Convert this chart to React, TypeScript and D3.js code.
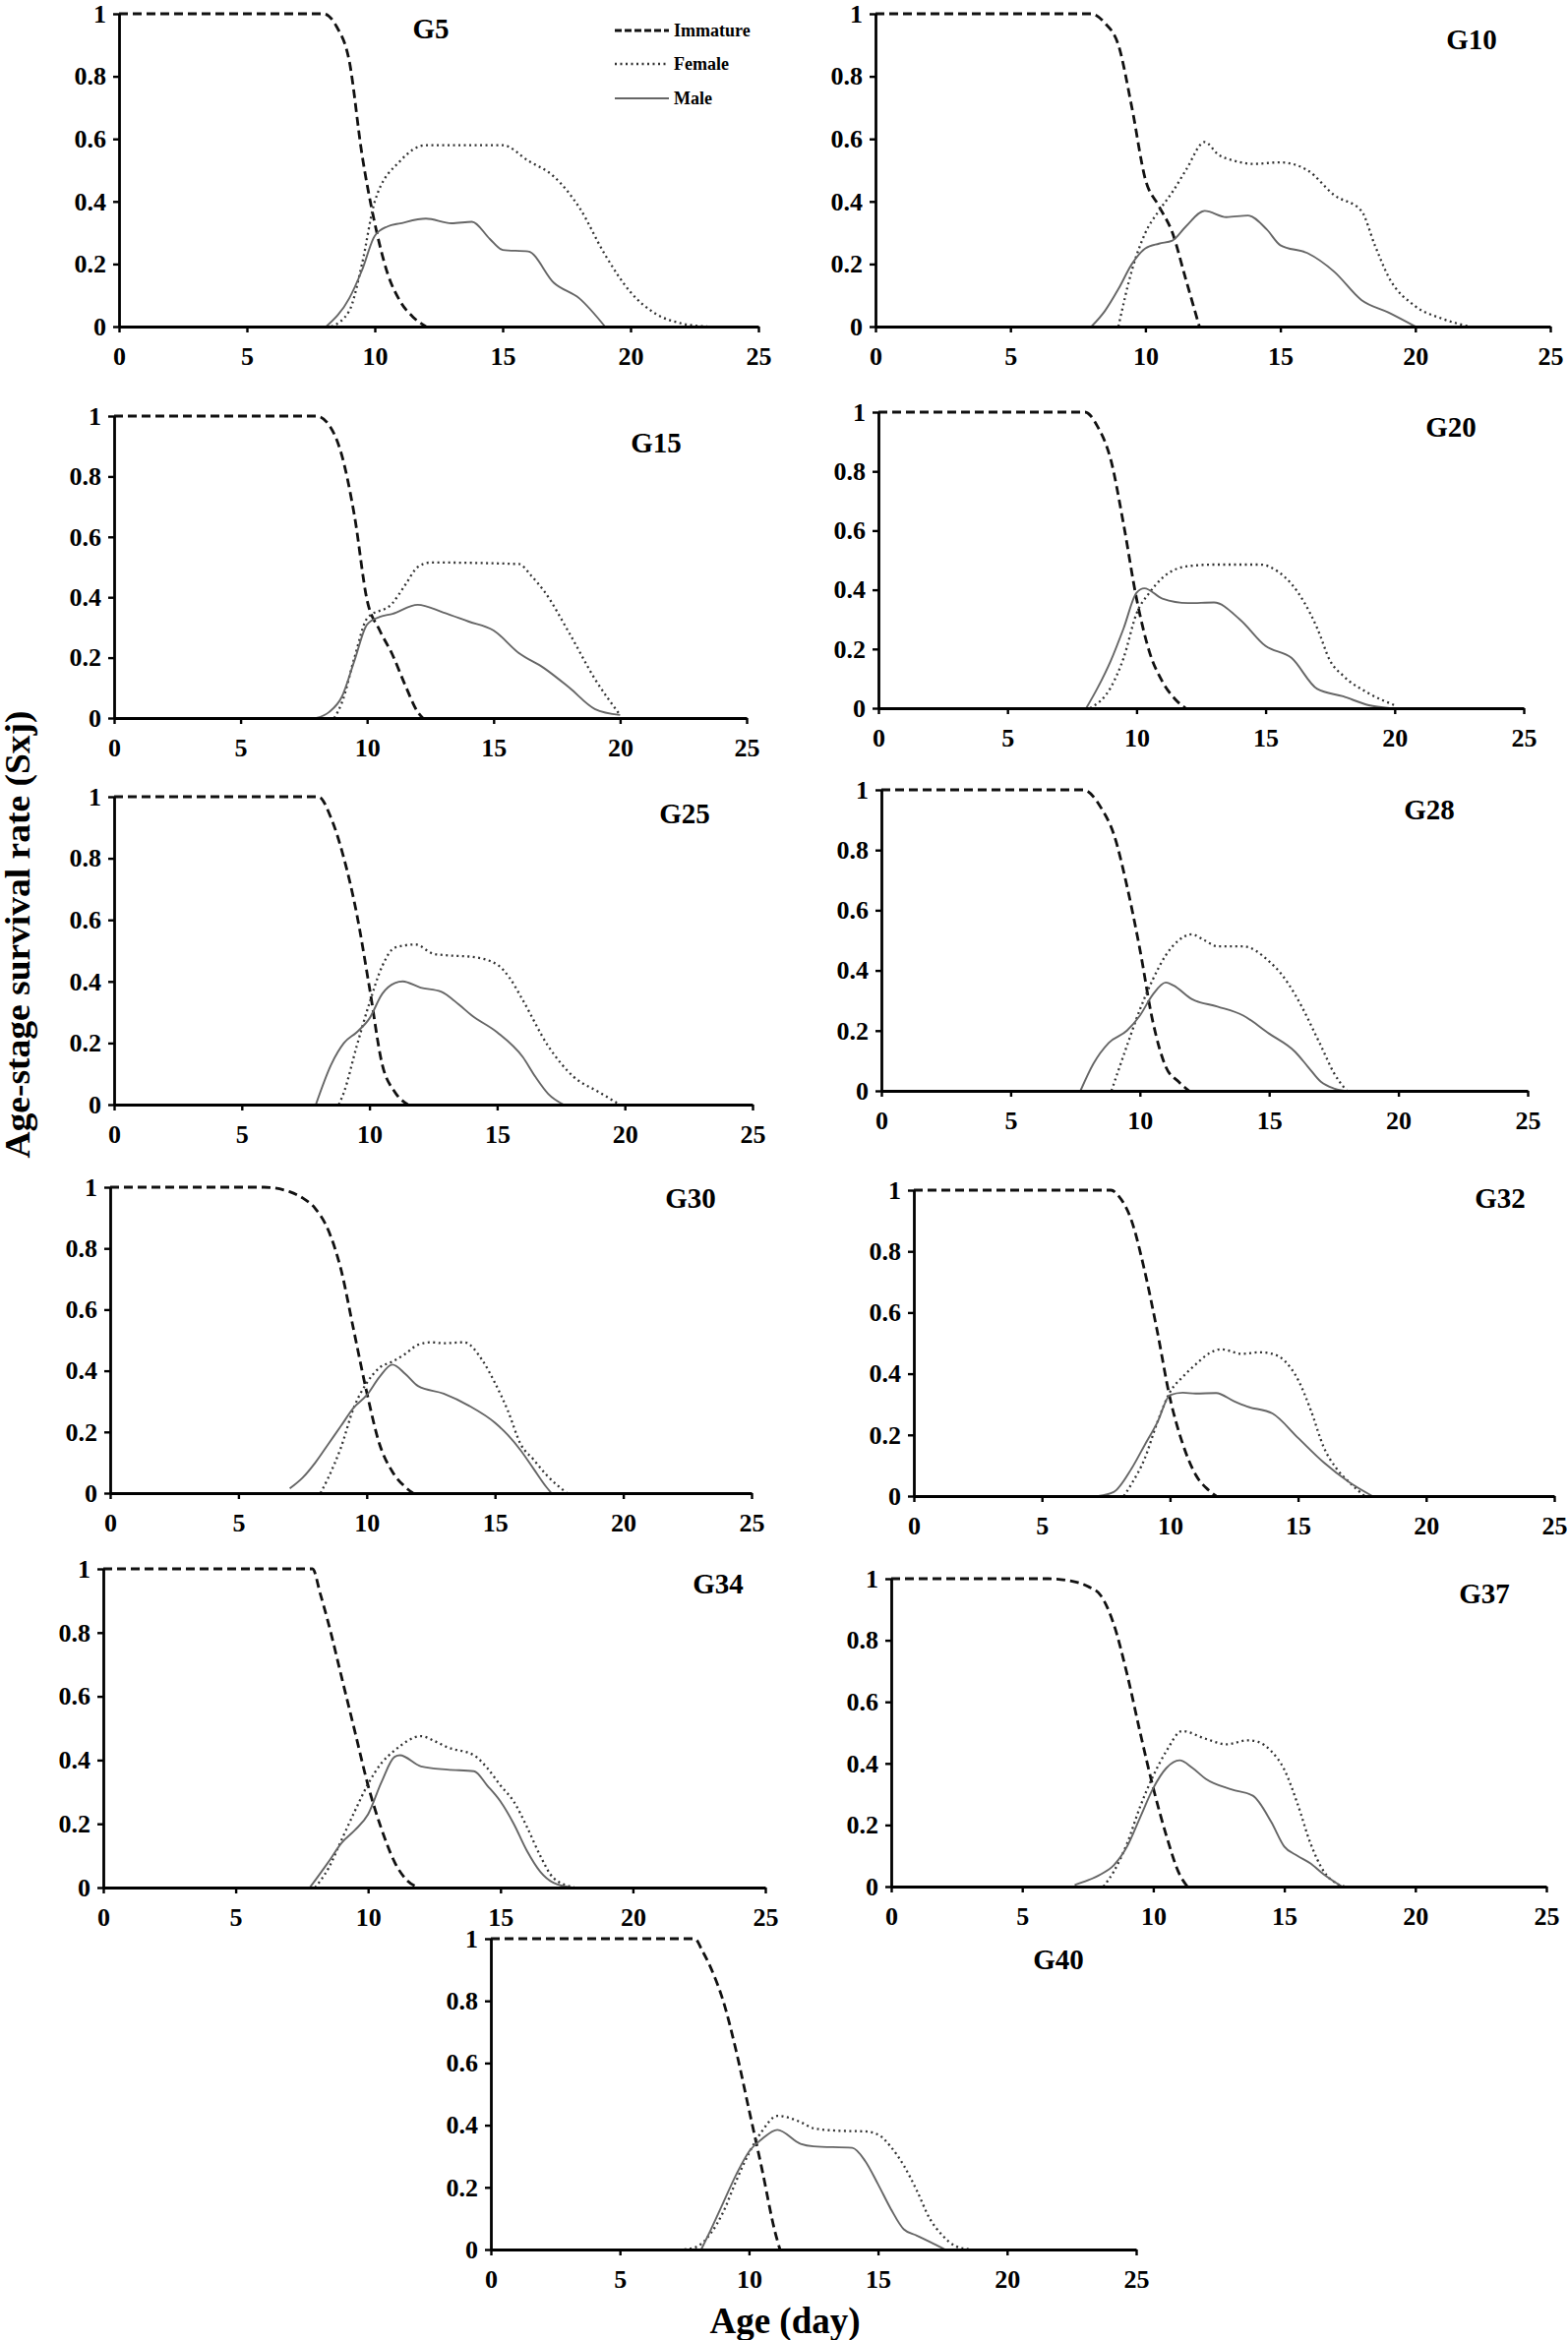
import React, { useEffect, useRef } from 'react';
import * as d3 from 'd3';

type Pt = [number, number];

const W = 1594;
const H = 2379;

const xTicks = [0, 5, 10, 15, 20, 25];
const yTicks = [0, 0.2, 0.4, 0.6, 0.8, 1];
const panelNames = ['G5', 'G10', 'G15', 'G20', 'G25', 'G28', 'G30', 'G32', 'G34', 'G37', 'G40'];
const legendLabels = ['Immature', 'Female', 'Male'];
const yTitle = 'Age-stage survival rate (Sxj)';
const xTitle = 'Age (day)';

// [day, survival]
const g5Immature: Pt[] = [[0, 1], [8, 1], [8.5, 0.96], [9, 0.85], [9.5, 0.55], [10, 0.33], [10.5, 0.17], [11, 0.08], [11.5, 0.03], [12, 0]];
const g5Female: Pt[] = [[8.3, 0], [9, 0.05], [9.5, 0.2], [10, 0.4], [11, 0.53], [12, 0.58], [13, 0.58], [14, 0.58], [15, 0.58], [16, 0.53], [17, 0.48], [18, 0.38], [19, 0.23], [20, 0.11], [21, 0.04], [22, 0.01], [23, 0]];
const g5Male: Pt[] = [[8.1, 0], [9, 0.09], [9.5, 0.18], [10, 0.29], [10.5, 0.32], [11, 0.33], [12, 0.345], [13, 0.33], [13.8, 0.335], [14.5, 0.28], [15, 0.245], [16, 0.24], [17, 0.14], [18, 0.09], [19, 0]];

const g10Immature: Pt[] = [[0, 1], [8, 1], [8.5, 0.97], [9, 0.9], [9.5, 0.7], [10, 0.47], [10.5, 0.385], [11, 0.3], [11.5, 0.15], [12, 0]];
const g10Female: Pt[] = [[9, 0], [9.5, 0.18], [10, 0.3], [10.5, 0.37], [11, 0.43], [11.5, 0.5], [12.2, 0.59], [12.7, 0.55], [13.3, 0.53], [14, 0.52], [15, 0.525], [16, 0.5], [17, 0.42], [18, 0.37], [18.5, 0.26], [19, 0.16], [20, 0.065], [21, 0.025], [22, 0]];
const g10Male: Pt[] = [[8, 0], [8.5, 0.05], [9, 0.12], [9.5, 0.2], [10, 0.25], [10.5, 0.265], [11, 0.275], [11.5, 0.32], [12.2, 0.37], [13, 0.35], [13.8, 0.355], [14.5, 0.31], [15, 0.26], [16, 0.235], [17, 0.175], [18, 0.085], [19, 0.045], [20, 0]];

const g15Immature: Pt[] = [[0, 1], [8, 1], [8.5, 0.97], [9, 0.87], [9.5, 0.67], [10, 0.39], [10.5, 0.29], [11, 0.21], [11.5, 0.11], [12, 0.02], [12.2, 0]];
const g15Female: Pt[] = [[8.7, 0], [9, 0.05], [9.5, 0.2], [10, 0.33], [11, 0.38], [11.5, 0.44], [12, 0.5], [12.5, 0.515], [16, 0.51], [16.5, 0.47], [17, 0.42], [18, 0.28], [19, 0.13], [20, 0.01]];
const g15Male: Pt[] = [[8, 0], [8.5, 0.02], [9, 0.07], [9.5, 0.19], [10, 0.31], [10.5, 0.335], [11, 0.345], [12, 0.375], [13, 0.35], [14, 0.32], [15, 0.29], [16, 0.215], [17, 0.165], [18, 0.1], [19, 0.03], [20, 0.01]];

const g20Immature: Pt[] = [[0, 1], [8, 1], [8.5, 0.95], [9, 0.84], [9.5, 0.62], [10, 0.37], [10.5, 0.19], [11, 0.09], [11.5, 0.03], [11.9, 0]];
const g20Female: Pt[] = [[8.2, 0], [9, 0.07], [9.5, 0.17], [10, 0.32], [10.5, 0.39], [11, 0.44], [12, 0.48], [13, 0.485], [14, 0.485], [14.8, 0.485], [15.5, 0.46], [16, 0.42], [17, 0.27], [17.5, 0.16], [18, 0.11], [19, 0.05], [20, 0.01]];
const g20Male: Pt[] = [[8.05, 0], [8.5, 0.07], [9, 0.16], [9.5, 0.27], [10, 0.39], [10.3, 0.405], [11, 0.37], [12, 0.355], [13, 0.357], [14, 0.3], [15, 0.21], [16, 0.17], [17, 0.065], [18, 0.04], [19, 0.01], [19.8, 0]];

const g25Immature: Pt[] = [[0, 1], [8, 1], [8.5, 0.93], [9, 0.8], [9.5, 0.62], [10, 0.38], [10.5, 0.13], [11, 0.04], [11.5, 0]];
const g25Female: Pt[] = [[8.8, 0], [9, 0.04], [9.5, 0.19], [10, 0.33], [10.5, 0.45], [11, 0.51], [11.8, 0.52], [12.5, 0.49], [13, 0.485], [14, 0.48], [15, 0.455], [15.5, 0.41], [16, 0.34], [17, 0.19], [18, 0.09], [19, 0.04], [19.8, 0]];
const g25Male: Pt[] = [[7.9, 0], [8.5, 0.13], [9, 0.2], [9.5, 0.235], [10, 0.28], [10.5, 0.36], [11, 0.395], [11.3, 0.4], [12, 0.38], [12.8, 0.367], [13.5, 0.325], [14, 0.29], [15, 0.235], [16, 0.155], [16.5, 0.09], [17, 0.035], [17.6, 0]];

const g28Immature: Pt[] = [[0, 1], [7.8, 1], [8.5, 0.94], [9, 0.85], [9.5, 0.68], [10, 0.47], [10.5, 0.23], [11, 0.08], [11.5, 0.03], [11.9, 0]];
const g28Female: Pt[] = [[8.9, 0], [9.5, 0.15], [10, 0.27], [10.5, 0.37], [11, 0.45], [11.5, 0.5], [12, 0.52], [12.5, 0.5], [13, 0.48], [14, 0.48], [15, 0.43], [15.5, 0.385], [16, 0.32], [17, 0.15], [17.5, 0.06], [18, 0]];
const g28Male: Pt[] = [[7.7, 0], [8.2, 0.09], [8.8, 0.16], [9.5, 0.2], [10, 0.25], [10.5, 0.32], [11, 0.36], [11.3, 0.35], [12, 0.305], [13, 0.28], [14, 0.25], [15, 0.19], [16, 0.13], [16.5, 0.08], [17, 0.03], [17.5, 0.008], [17.9, 0]];

const g30Immature: Pt[] = [[0, 1], [6, 1], [7, 0.985], [7.5, 0.965], [8, 0.93], [8.5, 0.86], [9, 0.73], [9.5, 0.53], [10, 0.33], [10.5, 0.16], [11, 0.07], [11.5, 0.02], [11.8, 0]];
const g30Female: Pt[] = [[8.2, 0], [8.5, 0.05], [9, 0.15], [9.5, 0.28], [10, 0.36], [10.5, 0.41], [11, 0.43], [11.5, 0.455], [12, 0.485], [12.5, 0.493], [13, 0.49], [13.8, 0.493], [14.5, 0.435], [15, 0.36], [15.5, 0.27], [16, 0.16], [16.5, 0.11], [17, 0.06], [17.8, 0]];
const g30Male: Pt[] = [[7, 0.015], [7.5, 0.05], [8, 0.1], [8.5, 0.16], [9, 0.22], [9.5, 0.28], [10, 0.32], [10.5, 0.38], [11, 0.42], [11.5, 0.39], [12, 0.35], [13, 0.325], [14, 0.285], [15, 0.23], [15.5, 0.19], [16, 0.14], [16.5, 0.08], [17, 0.02], [17.2, 0]];

const g32Immature: Pt[] = [[0, 1], [7.7, 1], [8, 0.98], [8.5, 0.9], [9, 0.74], [9.5, 0.54], [10, 0.32], [10.5, 0.17], [11, 0.07], [11.5, 0.02], [11.8, 0]];
const g32Female: Pt[] = [[8.2, 0], [8.5, 0.04], [9, 0.12], [9.5, 0.24], [10, 0.34], [10.5, 0.39], [11, 0.43], [11.5, 0.465], [12, 0.48], [12.8, 0.465], [13.5, 0.47], [14, 0.465], [14.5, 0.44], [15, 0.38], [15.5, 0.28], [16, 0.16], [16.5, 0.09], [17, 0.045], [17.6, 0]];
const g32Male: Pt[] = [[7.2, 0], [7.8, 0.013], [8.5, 0.09], [9, 0.165], [9.5, 0.24], [10, 0.33], [10.5, 0.338], [11, 0.335], [11.8, 0.337], [12.5, 0.31], [13, 0.293], [14, 0.27], [15, 0.19], [16, 0.11], [17, 0.045], [17.9, 0]];

const g34Immature: Pt[] = [[0, 1], [7.9, 1], [8.2, 0.92], [8.5, 0.83], [9, 0.66], [9.5, 0.49], [10, 0.32], [10.5, 0.185], [11, 0.08], [11.5, 0.02], [11.9, 0]];
const g34Female: Pt[] = [[8, 0], [8.5, 0.06], [9, 0.15], [9.5, 0.24], [10, 0.325], [10.5, 0.39], [11, 0.43], [12, 0.475], [12.5, 0.46], [13, 0.44], [14, 0.415], [14.5, 0.375], [15, 0.32], [15.5, 0.27], [16, 0.19], [16.5, 0.1], [17, 0.03], [17.8, 0]];
const g34Male: Pt[] = [[7.8, 0], [8.5, 0.08], [9, 0.14], [9.5, 0.18], [10, 0.23], [10.5, 0.33], [11, 0.41], [11.2, 0.415], [12, 0.38], [13, 0.37], [14, 0.365], [14.5, 0.32], [15, 0.27], [15.5, 0.2], [16, 0.115], [16.5, 0.05], [17, 0.015], [17.7, 0]];

const g37Immature: Pt[] = [[0, 1], [6, 1], [7, 0.99], [7.5, 0.975], [8, 0.945], [8.5, 0.85], [9, 0.69], [9.5, 0.5], [10, 0.32], [10.5, 0.165], [11, 0.04], [11.3, 0]];
const g37Female: Pt[] = [[8.1, 0], [8.5, 0.05], [9, 0.14], [9.5, 0.26], [10, 0.36], [10.5, 0.44], [11.1, 0.505], [12, 0.48], [12.8, 0.462], [13.6, 0.475], [14, 0.47], [14.5, 0.44], [15, 0.38], [15.5, 0.27], [16, 0.14], [16.5, 0.05], [17, 0.01], [17.3, 0]];
const g37Male: Pt[] = [[7, 0.005], [7.5, 0.02], [8, 0.04], [8.5, 0.07], [9, 0.13], [9.5, 0.225], [10, 0.32], [10.5, 0.385], [11, 0.41], [11.5, 0.385], [12, 0.35], [13, 0.315], [13.8, 0.295], [14.5, 0.21], [15, 0.13], [15.5, 0.1], [16, 0.075], [16.5, 0.04], [17.2, 0]];

const g40Immature: Pt[] = [[0, 1], [7.9, 1], [8.2, 0.96], [8.5, 0.91], [9, 0.8], [9.5, 0.64], [10, 0.45], [10.5, 0.26], [11, 0.06], [11.2, 0]];
const g40Female: Pt[] = [[7.5, 0], [8, 0.01], [8.5, 0.05], [9, 0.12], [9.5, 0.22], [10, 0.31], [10.5, 0.38], [11.1, 0.43], [12, 0.41], [12.5, 0.39], [13.5, 0.382], [14.5, 0.38], [15, 0.37], [15.5, 0.33], [16, 0.27], [16.5, 0.19], [17, 0.1], [17.5, 0.045], [18, 0.011], [18.6, 0]];
const g40Male: Pt[] = [[8.15, 0], [8.5, 0.06], [9, 0.15], [9.5, 0.24], [10, 0.315], [10.5, 0.355], [11.1, 0.385], [12, 0.34], [12.5, 0.332], [14, 0.327], [14.5, 0.285], [15, 0.21], [15.5, 0.13], [16, 0.065], [16.5, 0.045], [17, 0.025], [17.6, 0]];

const immatureSeries = [g5Immature, g10Immature, g15Immature, g20Immature, g25Immature, g28Immature, g30Immature, g32Immature, g34Immature, g37Immature, g40Immature];
const femaleSeries = [g5Female, g10Female, g15Female, g20Female, g25Female, g28Female, g30Female, g32Female, g34Female, g37Female, g40Female];
const maleSeries = [g5Male, g10Male, g15Male, g20Male, g25Male, g28Male, g30Male, g32Male, g34Male, g37Male, g40Male];

// layout: left, right, top, bottom of each plot area, title centre
const frames = [
  { l: 121, r: 771, t: 14, b: 332, tx: 438, ty: 29 },
  { l: 890, r: 1576, t: 14, b: 332, tx: 1496, ty: 40 },
  { l: 116, r: 759, t: 423, b: 730, tx: 667, ty: 450 },
  { l: 893, r: 1549, t: 419, b: 720, tx: 1475, ty: 434 },
  { l: 116, r: 765, t: 810, b: 1123, tx: 696, ty: 827 },
  { l: 896, r: 1553, t: 803, b: 1109, tx: 1453, ty: 823 },
  { l: 112, r: 764, t: 1207, b: 1518, tx: 702, ty: 1218 },
  { l: 929, r: 1580, t: 1210, b: 1521, tx: 1525, ty: 1218 },
  { l: 105, r: 778, t: 1595, b: 1919, tx: 730, ty: 1610 },
  { l: 906, r: 1572, t: 1605, b: 1918, tx: 1509, ty: 1620 },
  { l: 499, r: 1155, t: 1971, b: 2287, tx: 1076, ty: 1992 },
];

const lineStyles = [
  { stroke: '#111', width: 2.8, dash: '9,5' },
  { stroke: '#333', width: 2.3, dash: '2,3.5' },
  { stroke: '#666', width: 1.9, dash: null as string | null },
];

const FONT = '"Liberation Serif", "Times New Roman", serif';

const App = () => {
  const svgRef = useRef<SVGSVGElement>(null);

  useEffect(() => {
    const svg = d3.select(svgRef.current);
    svg.selectAll('*').remove();

    panelNames.forEach((name, i) => {
      const f = frames[i];
      const x = d3.scaleLinear([0, 25], [f.l, f.r]);
      const y = d3.scaleLinear([0, 1], [f.b, f.t]);
      const g = svg.append('g');

      const line = d3.line<Pt>()
        .x(d => x(d[0]))
        .y(d => y(d[1]))
        .curve(d3.curveMonotoneX);

      [immatureSeries[i], femaleSeries[i], maleSeries[i]].forEach((data, k) => {
        const s = lineStyles[k];
        g.append('path')
          .attr('d', line(data))
          .attr('fill', 'none')
          .attr('stroke', s.stroke)
          .attr('stroke-width', s.width)
          .attr('stroke-dasharray', s.dash);
      });

      const yAxis = g.append('g')
        .attr('transform', `translate(${f.l},0)`)
        .call(d3.axisLeft(y).tickValues(yTicks).tickSize(6).tickSizeOuter(0).tickPadding(7)
          .tickFormat(d => (+d === 0 || +d === 1 ? String(+d) : (+d).toFixed(1))));
      const xAxis = g.append('g')
        .attr('transform', `translate(0,${f.b})`)
        .call(d3.axisBottom(x).tickValues(xTicks).tickSize(6).tickSizeOuter(0).tickPadding(15));

      [yAxis, xAxis].forEach(ax => {
        ax.select('.domain').attr('stroke', '#000').attr('stroke-width', 2.8);
        ax.selectAll('.tick line').attr('stroke', '#000').attr('stroke-width', 2.4);
        ax.selectAll('.tick text')
          .attr('fill', '#000')
          .attr('font-family', FONT)
          .attr('font-weight', 'bold')
          .attr('font-size', 26);
      });

      g.append('text')
        .attr('x', f.tx)
        .attr('y', f.ty)
        .attr('dy', '0.35em')
        .attr('text-anchor', 'middle')
        .attr('font-family', FONT)
        .attr('font-weight', 'bold')
        .attr('font-size', 29)
        .text(name);

      if (i === 0) {
        const legend = g.append('g');
        legendLabels.forEach((lab, k) => {
          const s = lineStyles[k];
          const ly = [31, 65, 100][k];
          legend.append('line')
            .attr('x1', 625).attr('x2', 680)
            .attr('y1', ly).attr('y2', ly)
            .attr('stroke', s.stroke)
            .attr('stroke-width', s.width)
            .attr('stroke-dasharray', k === 0 ? '7,3' : s.dash);
          legend.append('text')
            .attr('x', 685)
            .attr('y', ly)
            .attr('dy', '0.35em')
            .attr('font-family', FONT)
            .attr('font-weight', 'bold')
            .attr('font-size', 18)
            .text(lab);
        });
      }
    });

    svg.append('text')
      .attr('transform', `translate(30,950) rotate(-90)`)
      .attr('text-anchor', 'middle')
      .attr('font-family', FONT)
      .attr('font-weight', 'bold')
      .attr('font-size', 35)
      .attr('textLength', 455)
      .attr('lengthAdjust', 'spacingAndGlyphs')
      .text(yTitle);

    svg.append('text')
      .attr('x', 798)
      .attr('y', 2372)
      .attr('text-anchor', 'middle')
      .attr('font-family', FONT)
      .attr('font-weight', 'bold')
      .attr('font-size', 37)
      .text(xTitle);
  }, []);

  return (
    <svg
      ref={svgRef}
      width={W}
      height={H}
      style={{ position: 'absolute', left: 0, top: 0, background: '#fff' }}
    />
  );
};

export default App;
